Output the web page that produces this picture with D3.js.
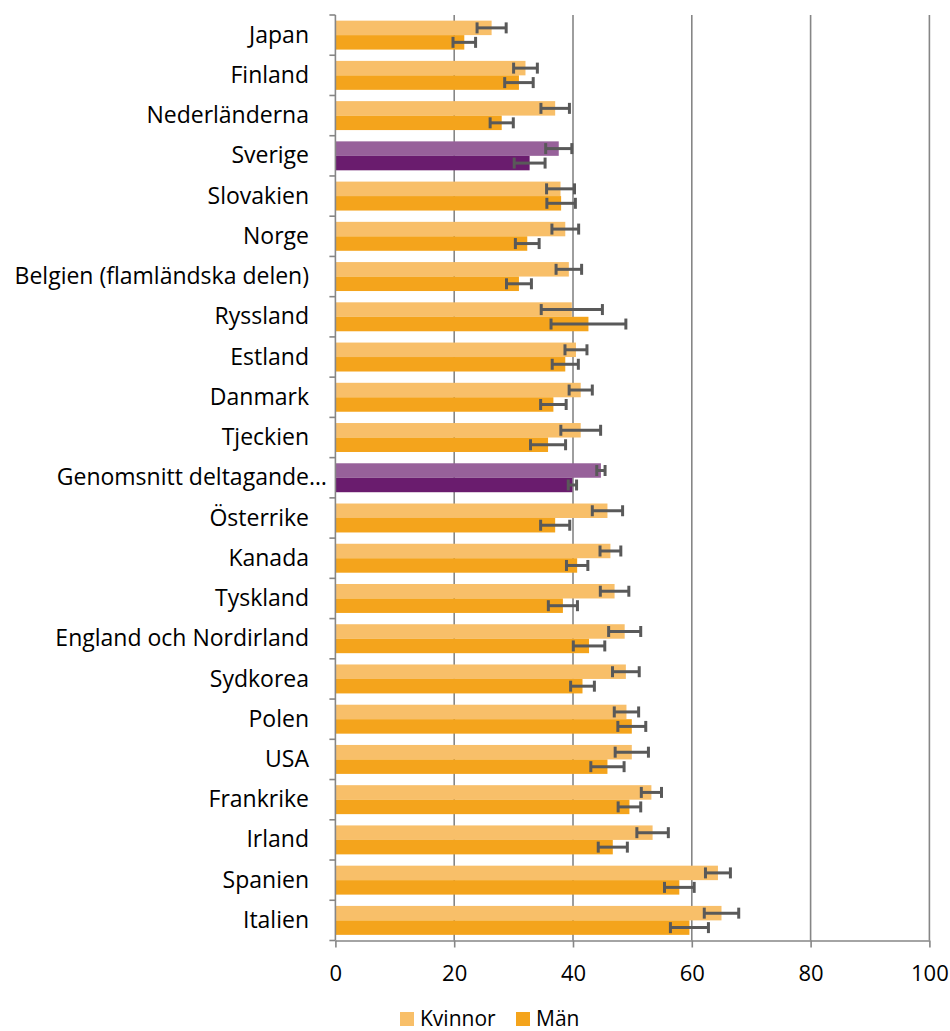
<!DOCTYPE html>
<html>
<head>
<meta charset="utf-8">
<script src="https://cdn.jsdelivr.net/npm/d3@7"></script>
<style>
  body { margin: 0; background: #fff; }
  svg { display: block; font-family: 'Open Sans', sans-serif; }
</style>
</head>
<body>
<div id="chart"></div>
<script>
'use strict'

var categories = [
  'Japan', 'Finland', 'Nederländerna', 'Sverige', 'Slovakien', 'Norge',
  'Belgien (flamländska delen)', 'Ryssland', 'Estland', 'Danmark', 'Tjeckien',
  'Genomsnitt deltagande…', 'Österrike', 'Kanada', 'Tyskland',
  'England och Nordirland', 'Sydkorea', 'Polen', 'USA', 'Frankrike', 'Irland',
  'Spanien', 'Italien'
];
var highlighted = ['Sverige', 'Genomsnitt deltagande…'];

var kvinnor = [26.3, 32.0, 37.0, 37.6, 37.9, 38.7, 39.3, 39.8, 40.5, 41.3, 41.3,
  44.7, 45.8, 46.3, 47.0, 48.7, 48.9, 49.0, 49.9, 53.2, 53.4, 64.4, 65.0];
var kvinnorErr = [2.45, 2.0, 2.4, 2.2, 2.35, 2.25, 2.15, 5.15, 1.85, 1.95, 3.35,
  0.7, 2.55, 1.75, 2.4, 2.7, 2.25, 2.05, 2.8, 1.7, 2.65, 2.1, 2.9];
var man = [21.7, 30.9, 28.0, 32.7, 38.0, 32.3, 30.9, 42.6, 38.7, 36.7, 35.8,
  39.9, 37.0, 40.7, 38.3, 42.7, 41.6, 49.9, 45.8, 49.5, 46.7, 57.9, 59.6];
var manErr = [1.9, 2.4, 1.95, 2.6, 2.4, 2.0, 2.1, 6.3, 2.2, 2.15, 2.95,
  0.7, 2.45, 1.8, 2.45, 2.65, 2.0, 2.35, 2.8, 1.9, 2.45, 2.5, 3.2];

var seriesNames = ['Kvinnor', 'Män'];
var xTicks = [0, 20, 40, 60, 80, 100];

var colors = {
  'Kvinnor': '#F8BF69',
  'Män': '#F4A41C',
  'KvinnorHi': '#97619A',
  'MänHi': '#6A1C6E'
};

(function() {
  var width = 950, height = 1031;
  var padding = { top: 15, right: 20.6, bottom: 90.5, left: 335.4 };
  var labelSize = 23;

  var svg = d3.select('#chart').append('svg')
    .attr('width', width)
    .attr('height', height);

  var x = d3.scaleLinear()
    .domain([0, 100])
    .range([padding.left, width - padding.right]);

  var y = d3.scaleBand()
    .domain(categories)
    .range([padding.top, height - padding.bottom]);

  var ySub = d3.scaleBand()
    .domain(seriesNames)
    .range([0, y.step()])
    .paddingOuter(0.39);

  // gridlines
  svg.append('g')
    .selectAll('line')
    .data(xTicks.slice(1))
    .enter().append('line')
    .attr('x1', function(d) { return x(d); })
    .attr('x2', function(d) { return x(d); })
    .attr('y1', padding.top)
    .attr('y2', height - padding.bottom)
    .attr('style', 'stroke: #868686; stroke-width: 1.6;');

  var rows = categories.map(function(c, i) {
    return {
      cat: c,
      hi: highlighted.indexOf(c) >= 0,
      vals: [
        { s: 'Kvinnor', v: kvinnor[i], e: kvinnorErr[i] },
        { s: 'Män', v: man[i], e: manErr[i] }
      ]
    };
  });

  var groups = svg.append('g')
    .selectAll('g')
    .data(rows)
    .enter().append('g')
    .attr('transform', function(d) { return 'translate(0,' + y(d.cat) + ')'; });

  groups.selectAll('rect')
    .data(function(d) { return d.vals.map(function(v) { v.hi = d.hi; return v; }); })
    .enter().append('rect')
    .attr('x', x(0))
    .attr('y', function(d) { return ySub(d.s); })
    .attr('height', ySub.bandwidth())
    .attr('width', function(d) { return x(d.v) - x(0); })
    .attr('fill', function(d) { return d.hi ? colors[d.s + 'Hi'] : colors[d.s]; });

  // error bars
  var errG = groups.selectAll('g.err')
    .data(function(d) { return d.vals; })
    .enter().append('g')
    .attr('class', 'err')
    .attr('transform', function(d) {
      return 'translate(0,' + (ySub(d.s) + ySub.bandwidth() / 2) + ')';
    });
  var errStyle = 'stroke: #595959; stroke-width: 3; fill: none;';
  errG.append('line')
    .attr('x1', function(d) { return x(d.v - d.e); })
    .attr('x2', function(d) { return x(d.v + d.e); })
    .attr('style', errStyle);
  errG.append('line')
    .attr('x1', function(d) { return x(d.v - d.e); })
    .attr('x2', function(d) { return x(d.v - d.e); })
    .attr('y1', -5.5).attr('y2', 5.5)
    .attr('style', errStyle);
  errG.append('line')
    .attr('x1', function(d) { return x(d.v + d.e); })
    .attr('x2', function(d) { return x(d.v + d.e); })
    .attr('y1', -5.5).attr('y2', 5.5)
    .attr('style', errStyle);

  // y axis: line + ticks at category boundaries
  var yAxis = svg.append('g');
  yAxis.append('line')
    .attr('x1', x(0)).attr('x2', x(0))
    .attr('y1', padding.top).attr('y2', height - padding.bottom)
    .attr('style', 'stroke: #868686; stroke-width: 1.6;');
  var bounds = categories.map(function(c) { return y(c); });
  bounds.push(height - padding.bottom);
  yAxis.selectAll('line.tick')
    .data(bounds)
    .enter().append('line')
    .attr('class', 'tick')
    .attr('x1', x(0) - 6).attr('x2', x(0))
    .attr('y1', function(d) { return d; })
    .attr('y2', function(d) { return d; })
    .attr('style', 'stroke: #868686; stroke-width: 1.6;');

  // measure ellipsis so truncated label keeps its body aligned
  var probe = svg.append('text').attr('font-size', labelSize).text('…');
  var ellW = probe.node().getComputedTextLength();
  probe.remove();

  yAxis.selectAll('text')
    .data(categories)
    .enter().append('text')
    .attr('x', function(d) { return d.slice(-1) === '…' ? 309 + ellW : 309; })
    .attr('y', function(d) { return y(d) + y.step() / 2; })
    .attr('dy', '0.33em')
    .attr('text-anchor', 'end')
    .attr('font-size', labelSize)
    .attr('fill', '#000')
    .text(function(d) { return d; });

  // x axis
  var xAxis = d3.axisBottom(x)
    .tickValues(xTicks)
    .tickSize(7)
    .tickPadding(18)
    .tickSizeOuter(0);
  var xg = svg.append('g')
    .attr('transform', 'translate(0,' + (height - padding.bottom) + ')')
    .call(xAxis);
  xg.select('.domain').attr('style', 'stroke: #868686; stroke-width: 1.6;');
  xg.selectAll('.tick line').attr('style', 'stroke: #868686; stroke-width: 1.6;');
  xg.selectAll('.tick text')
    .attr('font-size', 22)
    .attr('font-family', "'Open Sans', sans-serif")
    .attr('fill', '#000');

  // legend
  var legendX = [400, 516];
  var legend = svg.append('g');
  seriesNames.forEach(function(s, i) {
    legend.append('rect')
      .attr('x', legendX[i]).attr('y', 1012)
      .attr('width', 14).attr('height', 14)
      .attr('fill', colors[s]);
    legend.append('text')
      .attr('x', legendX[i] + 20).attr('y', 1026)
      .attr('font-size', 21)
      .attr('fill', '#000')
      .text(s);
  });
})();
</script>
</body>
</html>
